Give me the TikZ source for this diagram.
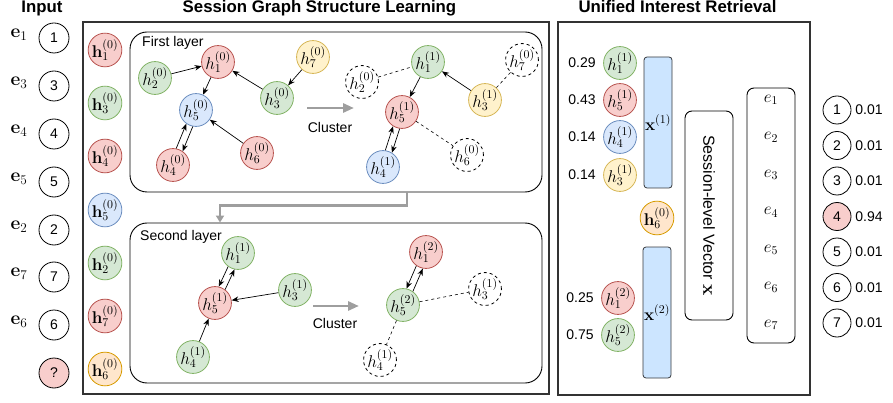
\RequirePackage{fix-cm}
\documentclass[tikz,border=0pt]{standalone}
\usepackage[no-math]{fontspec}
\setmainfont{Liberation Sans}
\usetikzlibrary{arrows.meta,calc}
\definecolor{rfill}{HTML}{F8CECC}\definecolor{rdraw}{HTML}{B85450}
\definecolor{gfill}{HTML}{D5E8D4}\definecolor{gdraw}{HTML}{82B366}
\definecolor{bfill}{HTML}{DAE8FC}\definecolor{bdraw}{HTML}{6C8EBF}
\definecolor{yfill}{HTML}{FFF2CC}\definecolor{ydraw}{HTML}{D6B656}
\definecolor{ofill}{HTML}{FFE6CC}\definecolor{odraw}{HTML}{D79B00}
\definecolor{xfill}{HTML}{CCE5FF}\definecolor{xdraw}{HTML}{36393D}
\definecolor{garrow}{HTML}{9E9E9E}
\definecolor{boxline}{HTML}{333333}
\newcommand\twoway[3]{%
  \draw[arr] let \p1=($(#2)-(#1)$), \n1={atan2(\y1,\x1)}, \n2={\n1+(#3)}, \n3={\n1+180-(#3)} in (#1.\n2) -- (#2.\n3);
  \draw[arr] let \p1=($(#2)-(#1)$), \n1={atan2(\y1,\x1)}, \n2={\n1+180+(#3)}, \n3={\n1-(#3)} in (#2.\n2) -- (#1.\n3);
}
\begin{document}
\begin{tikzpicture}[x=1pt,y=-1pt,
  title/.style={font=\fontsize{16.8}{18}\selectfont\bfseries, anchor=base, inner sep=0pt},
  lab/.style={font=\fontsize{14}{16}\selectfont, inner sep=0pt},
  nd/.style={circle, minimum size=30pt, inner sep=0pt, line width=0.8pt, font=\fontsize{17}{19}\selectfont},
  cred/.style={nd, draw=rdraw, fill=rfill},
  cgreen/.style={nd, draw=gdraw, fill=gfill},
  cblue/.style={nd, draw=bdraw, fill=bfill},
  cyellow/.style={nd, draw=ydraw, fill=yfill},
  corange/.style={nd, draw=odraw, fill=ofill},
  cdash/.style={nd, draw=black, dashed, fill=white},
  inc/.style={circle, draw=black, line width=0.8pt, minimum size=30pt, inner sep=0pt, font=\fontsize{14}{16}\selectfont},
  outc/.style={circle, draw=black, line width=0.8pt, minimum size=28pt, inner sep=0pt, font=\fontsize{14}{16}\selectfont},
  elab/.style={inner sep=0pt, font=\fontsize{19}{21}\selectfont},
  erow/.style={inner sep=0pt, font=\fontsize{17}{19}\selectfont},
  arr/.style={-{Stealth[length=7pt,width=5.5pt]}, line width=0.7pt, black},
  dline/.style={dashed, line width=0.6pt, black},
  garr/.style={draw=garrow, line width=2.7pt, -{Triangle[length=11pt,width=9pt]}},
  gconn/.style={draw=garrow, line width=2.2pt, -{Triangle[length=7pt,width=8pt]}},
  bigbox/.style={draw=boxline, line width=1.1pt},
  layerbox/.style={draw=black, line width=0.9pt, rounded corners=17pt, minimum width=412pt, minimum height=160pt},
  xbox/.style={draw=xdraw, fill=xfill, line width=0.8pt, rounded corners=3pt, minimum width=28pt, minimum height=131pt, inner sep=0pt, font=\fontsize{17}{19}\selectfont},
  wbox/.style={draw=black, line width=0.9pt, rounded corners=7pt, minimum width=48pt, inner sep=0pt}
]
\useasboundingbox (0,0) rectangle (893,403);

% titles
\node[title] (tin) at (42,12.5) {Input};
\node[title] (tsg) at (319.5,12.5) {Session Graph Structure Learning};
\node[title] (tui) at (677.5,12.5) {Unified Interest Retrieval};

% input column
\foreach \i/\y in {1/38, 3/86, 4/134, 5/182, 2/230, 7/277, 6/325} {
  \node[inc] (in\i) at (54,\y) {\i};
  \node[elab] (e\i) at (19,\y-3) {$\mathbf{e}_{\i}$};
}
\node[inc, fill=rfill] (inq) at (54,373) {?};

% frames
\node[bigbox, minimum width=466pt, minimum height=372pt, inner sep=0pt] (B1) at (316,208) {};
\node[bigbox, minimum width=252pt, minimum height=373pt, inner sep=0pt] (B2) at (684,208.5) {};
\node[layerbox] (L1) at (336,112) {};
\node[layerbox] (L2) at (336,303) {};
\node[lab, anchor=west] (L1t) at (142,43) {First layer};
\node[lab, anchor=west] (L2t) at (140,237) {Second layer};
\draw[gconn] ([xshift=71pt]L1.south) -- ++(0,13) -| ([xshift=-116pt]L2.north);

% left h column
\node[cred] (l1) at (105,50) {$\mathbf{h}_1^{(0)}$};
\node[cgreen] (l3) at (105,103) {$\mathbf{h}_3^{(0)}$};
\node[cred] (l4) at (105,156) {$\mathbf{h}_4^{(0)}$};
\node[cblue] (l5) at (105,210) {$\mathbf{h}_5^{(0)}$};
\node[cgreen] (l2) at (105,263) {$\mathbf{h}_2^{(0)}$};
\node[cred] (l7) at (105,316) {$\mathbf{h}_7^{(0)}$};
\node[corange] (l6) at (105,369) {$\mathbf{h}_6^{(0)}$};

% first layer
\node[cred] (a1) at (218,62) {$h_1^{(0)}$};
\node[cgreen] (a2) at (155,78) {$h_2^{(0)}$};
\node[cblue] (a5) at (196,110) {$h_5^{(0)}$};
\node[cgreen] (a3) at (277,98) {$h_3^{(0)}$};
\node[cyellow] (a7) at (313,57) {$h_7^{(0)}$};
\node[cred] (a4) at (173,165) {$h_4^{(0)}$};
\node[cred] (a6) at (257,153) {$h_6^{(0)}$};
\draw[arr] (a2) -- (a1);
\draw[arr] (a1) -- (a5);
\draw[arr] (a3) -- (a1);
\draw[arr] (a7) -- (a3);
\draw[arr] (a6) -- (a5);
\twoway{a4}{a5}{12}

% cluster arrow 1
\coordinate (k1s) at (307,108);
\coordinate (k1e) at (354,108);
\draw[garr] (k1s) -- (k1e);
\node[lab] (k1t) at (330,127) {Cluster};

% after cluster 1
\node[cgreen] (b1) at (428,62) {$h_1^{(1)}$};
\node[cdash] (b2) at (362,82) {$h_2^{(0)}$};
\node[cdash] (b7) at (522,60) {$h_7^{(0)}$};
\node[cyellow] (b3) at (485,100) {$h_3^{(1)}$};
\node[cred] (b5) at (402,112) {$h_5^{(1)}$};
\node[cdash] (b6) at (467,155) {$h_6^{(0)}$};
\node[cblue] (b4) at (383,167) {$h_4^{(1)}$};
\draw[dline] (b2) -- (b1);
\draw[dline] (b7) -- (b3);
\draw[arr] (b3) -- (b1);
\draw[arr] (b1) -- (b5);
\draw[dline] (b5) -- (b6);
\twoway{b4}{b5}{12}

% second layer
\node[cgreen] (c1) at (238,253) {$h_1^{(1)}$};
\node[cred] (c5) at (215,303) {$h_5^{(1)}$};
\node[cgreen] (c3) at (295,290) {$h_3^{(1)}$};
\node[cgreen] (c4) at (193,357) {$h_4^{(1)}$};
\twoway{c1}{c5}{-12}
\draw[arr] (c3) -- (c5);
\draw[arr] (c4) -- (c5);

% cluster arrow 2
\coordinate (k2s) at (313,306);
\coordinate (k2e) at (359,306);
\draw[garr] (k2s) -- (k2e);
\node[lab] (k2t) at (335,323) {Cluster};

% after cluster 2
\node[cred] (d1) at (426,252) {$h_1^{(2)}$};
\node[cgreen] (d5) at (403,305) {$h_5^{(2)}$};
\node[cdash] (d3) at (485,289) {$h_3^{(1)}$};
\node[cdash] (d4) at (380,360) {$h_4^{(1)}$};
\twoway{d1}{d5}{-12}
\draw[dline] (d5) -- (d3);
\draw[dline] (d5) -- (d4);

% unified interest retrieval
\node[lab] (w1) at (582,63) {0.29};
\node[lab] (w2) at (582,100) {0.43};
\node[lab] (w3) at (582,137) {0.14};
\node[lab] (w4) at (582,175) {0.14};
\node[lab] (w5) at (580,298) {0.25};
\node[lab] (w6) at (580,335) {0.75};
\node[cgreen] (r1) at (620,63) {$h_1^{(1)}$};
\node[cred] (r2) at (620,100) {$h_5^{(1)}$};
\node[cblue] (r3) at (620,137) {$h_4^{(1)}$};
\node[cyellow] (r4) at (620,175) {$h_3^{(1)}$};
\node[corange] (r6) at (657,218) {$\mathbf{h}_6^{(0)}$};
\node[cred] (r7) at (618,298) {$h_1^{(2)}$};
\node[cgreen] (r8) at (618,335) {$h_5^{(2)}$};
\node[xbox] (x1) at (658,122.5) {$\mathbf{x}^{(1)}$};
\node[xbox] (x2) at (657,312.5) {$\mathbf{x}^{(2)}$};
\node[wbox, minimum height=209pt] (sv) at (709,215.5) {};
\node[rotate=-90, font=\fontsize{16}{18}\selectfont, inner sep=0pt] (svt) at (709,215.5) {Session-level Vector {\fontsize{19}{21}\selectfont$\mathbf{x}$}};
\node[wbox, minimum height=255pt] (el) at (771,215.5) {};
\foreach \k in {1,...,7} {
  \node[erow] (ee\k) at (771,{100+37.5*(\k-1)}) {$e_{\k}$};
}
% output
\foreach \k/\v in {1/0.01, 2/0.01, 3/0.01, 5/0.01, 6/0.01, 7/0.01} {
  \node[outc] (o\k) at (837,{110+35.5*(\k-1)}) {\k};
  \node[lab] (ov\k) at (869,{110+35.5*(\k-1)}) {\v};
}
\node[outc, fill=rfill] (o4) at (837,216.5) {4};
\node[lab] (ov4) at (869,216.5) {0.94};
\end{tikzpicture}
\end{document}
